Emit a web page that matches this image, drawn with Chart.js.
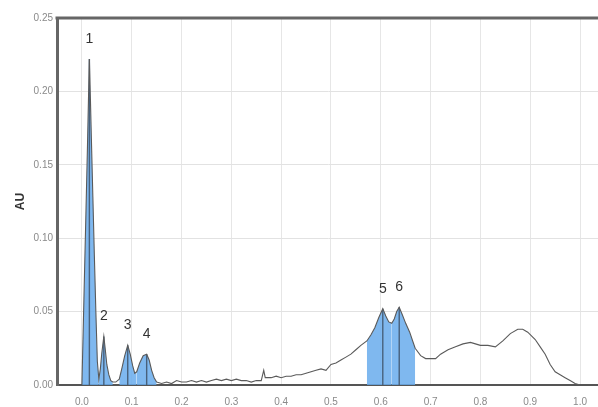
<!DOCTYPE html>
<html>
<head>
<meta charset="utf-8">
<script src="https://cdn.jsdelivr.net/npm/chart.js@4.4.1/dist/chart.umd.min.js"></script>
<style>
  html, body { margin: 0; padding: 0; background: #ffffff; overflow: hidden; }
  #wrap { width: 598px; height: 407px; position: relative; }
</style>
</head>
<body>
<div id="wrap"><canvas id="chart" width="598" height="407"></canvas></div>
<script>
// Absorbance trace (AU) against relative position
const xValues = [
  0.000, 0.004, 0.008, 0.011, 0.013, 0.015, 0.017, 0.019, 0.022, 0.025,
  0.028, 0.031, 0.034, 0.037, 0.040, 0.044, 0.047, 0.050, 0.054, 0.058,
  0.062, 0.068, 0.075, 0.080, 0.086, 0.092, 0.097, 0.102, 0.106, 0.110,
  0.116, 0.123, 0.130, 0.135, 0.140, 0.145, 0.150, 0.160, 0.170, 0.180,
  0.190, 0.200, 0.210, 0.220, 0.230, 0.240, 0.250, 0.260, 0.270, 0.280,
  0.290, 0.300, 0.310, 0.320, 0.330, 0.340, 0.350, 0.360, 0.365, 0.368,
  0.380, 0.390, 0.400, 0.410, 0.420, 0.430, 0.440, 0.450, 0.460, 0.470,
  0.480, 0.490, 0.500, 0.510, 0.520, 0.530, 0.540, 0.550, 0.560, 0.572,
  0.580, 0.588, 0.596, 0.604, 0.610, 0.616, 0.622, 0.627, 0.632, 0.637,
  0.643, 0.650, 0.658, 0.664, 0.669, 0.680, 0.690, 0.700, 0.710, 0.720,
  0.735, 0.750, 0.765, 0.780, 0.790, 0.800, 0.815, 0.830, 0.845, 0.860,
  0.875, 0.885, 0.895, 0.910, 0.920, 0.930, 0.940, 0.950, 0.960, 0.970,
  0.980, 0.990, 1.000
];
const auValues = [
  0.000, 0.058, 0.116, 0.160, 0.192, 0.222, 0.196, 0.168, 0.128, 0.088,
  0.050, 0.016, 0.004, 0.011, 0.022, 0.033, 0.024, 0.014, 0.007, 0.003,
  0.002, 0.002, 0.004, 0.011, 0.020, 0.027, 0.021, 0.013, 0.008, 0.009,
  0.015, 0.020, 0.021, 0.017, 0.010, 0.005, 0.002, 0.001, 0.002, 0.001,
  0.003, 0.002, 0.002, 0.003, 0.002, 0.003, 0.002, 0.003, 0.004, 0.003,
  0.004, 0.003, 0.004, 0.003, 0.003, 0.002, 0.003, 0.003, 0.010, 0.005,
  0.005, 0.006, 0.005, 0.006, 0.006, 0.007, 0.007, 0.008, 0.009, 0.010,
  0.011, 0.010, 0.014, 0.015, 0.017, 0.019, 0.021, 0.024, 0.027, 0.030,
  0.034, 0.039, 0.046, 0.052, 0.047, 0.043, 0.042, 0.045, 0.050, 0.053,
  0.048, 0.042, 0.036, 0.030, 0.025, 0.020, 0.018, 0.018, 0.018, 0.021,
  0.024, 0.026, 0.028, 0.029, 0.028, 0.027, 0.027, 0.026, 0.030, 0.035,
  0.038, 0.038, 0.036, 0.031, 0.026, 0.021, 0.014, 0.009, 0.007, 0.005,
  0.003, 0.001, 0.000
];

// Integrated peaks: label, apex position, integration window
const peakLabels = ['1', '2', '3', '4', '5', '6'];
const peakApex = [0.015, 0.044, 0.092, 0.130, 0.604, 0.637];
const peakStart = [0.000, 0.034, 0.075, 0.110, 0.572, 0.622];
const peakEnd = [0.034, 0.062, 0.110, 0.150, 0.622, 0.669];

const xTicks = [0.0, 0.1, 0.2, 0.3, 0.4, 0.5, 0.6, 0.7, 0.8, 0.9, 1.0];
const yTicks = [0.00, 0.05, 0.10, 0.15, 0.20, 0.25];

const trace = xValues.map((x, i) => ({ x: x, y: auValues[i] }));
const valueAt = x => auValues[xValues.indexOf(x)];

const fillSets = peakStart.map((s, k) => ({
  data: trace.filter(p => p.x >= s && p.x <= peakEnd[k]),
  borderWidth: 0,
  pointRadius: 0,
  backgroundColor: 'rgba(104,172,236,0.85)',
  fill: 'origin',
  tension: 0,
  order: 3
}));

const dropSets = peakApex.map(x => ({
  data: [{ x: x, y: 0 }, { x: x, y: valueAt(x) }],
  borderColor: '#48617c',
  borderWidth: 1.4,
  pointRadius: 0,
  fill: false,
  order: 2
}));

const traceSet = {
  data: trace,
  borderColor: '#5a5a5a',
  borderWidth: 1.1,
  pointRadius: 0,
  fill: false,
  tension: 0,
  order: 1
};

// Peak numbers above each apex, plus the heavy top frame line
const annotate = {
  id: 'annotate',
  afterDatasetsDraw(chart) {
    const { ctx, scales, chartArea } = chart;
    ctx.save();
    ctx.font = '14px "Liberation Sans", Arial, sans-serif';
    ctx.fillStyle = '#333333';
    ctx.textAlign = 'center';
    ctx.textBaseline = 'middle';
    peakApex.forEach((x, k) => {
      const px = scales.x.getPixelForValue(x);
      const py = scales.y.getPixelForValue(valueAt(x));
      ctx.fillText(peakLabels[k], px, py - 20);
    });
    ctx.strokeStyle = '#666666';
    ctx.lineWidth = 3;
    ctx.beginPath();
    ctx.moveTo(chartArea.left - 1.5, chartArea.top);
    ctx.lineTo(chartArea.right, chartArea.top);
    ctx.stroke();
    ctx.restore();
  }
};

new Chart(document.getElementById('chart'), {
  type: 'line',
  data: { datasets: [traceSet, ...dropSets, ...fillSets] },
  plugins: [annotate],
  options: {
    responsive: false,
    animation: false,
    events: [],
    layout: { padding: { top: 18, right: 0, bottom: 0, left: 0 } },
    plugins: { legend: { display: false }, tooltip: { enabled: false } },
    scales: {
      x: {
        type: 'linear',
        min: -0.05,
        max: 1.036,
        afterBuildTicks: s => { s.ticks = xTicks.map(v => ({ value: v })); },
        afterFit: s => { s.height = 22; },
        ticks: {
          callback: v => v.toFixed(1),
          color: '#8a8a8a',
          font: { size: 10, family: '"Liberation Sans", Arial, sans-serif' },
          padding: 11,
          maxRotation: 0,
          autoSkip: false
        },
        grid: { color: '#e6e6e6', lineWidth: 1, drawTicks: false },
        border: { color: '#555555', width: 2 }
      },
      y: {
        type: 'linear',
        min: 0,
        max: 0.25,
        afterBuildTicks: s => { s.ticks = yTicks.map(v => ({ value: v })); },
        afterFit: s => { s.width = 57; },
        ticks: {
          callback: v => v.toFixed(2),
          color: '#8a8a8a',
          font: { size: 10, family: '"Liberation Sans", Arial, sans-serif' },
          padding: 4
        },
        grid: { color: '#e2e2e2', lineWidth: 1, drawTicks: false },
        border: { color: '#666666', width: 3 },
        title: {
          display: true,
          text: 'AU',
          color: '#333333',
          font: { size: 12, weight: 'bold', family: '"Liberation Sans", Arial, sans-serif' },
          padding: { top: 13, bottom: 0 }
        }
      }
    }
  }
});
</script>
</body>
</html>
